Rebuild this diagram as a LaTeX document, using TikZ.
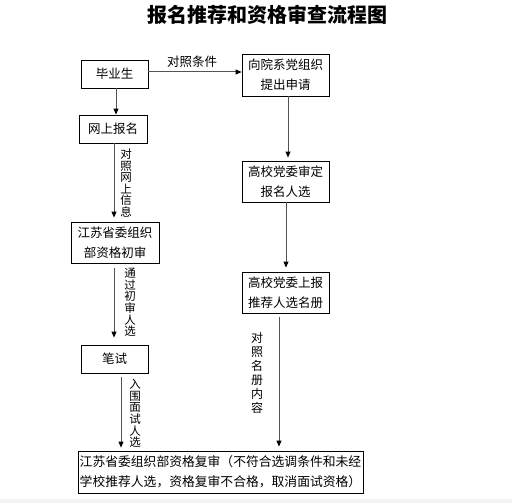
\documentclass[tikz,border=0pt]{standalone}
\usepackage{fontspec}
\newfontfamily\cjk{Noto Sans CJK SC}
\usetikzlibrary{arrows.meta}
\begin{document}
\begin{tikzpicture}[x=1pt,y=-1pt,
  box/.style={draw=black,line width=0.8pt,inner sep=0pt,align=center,font=\cjk\fontsize{12.5}{20}\selectfont},
  conn/.style={draw=gray!65!black,line width=1pt,-{Triangle[width=5pt,length=6pt,color=black]}},
  vlab/.style={align=center,inner sep=0pt,font=\cjk\fontsize{11.5}{11.6}\selectfont},
  hlab/.style={inner sep=0pt,font=\cjk\fontsize{12.5}{14}\selectfont}]
\useasboundingbox (0,0) rectangle (512,503);
\fill[white] (0,0) rectangle (512,503);
\fill[gray!10] (0,499) rectangle (512,503);
% title
\node[inner sep=0pt,font=\cjk\bfseries\fontsize{20}{22}\selectfont] (title) at (267,15) {报名推荐和资格审查流程图};
% boxes
\node[box,minimum width=67pt,minimum height=28pt] (b1) at (114.5,74) {毕业生};
\node[box,minimum width=87pt,minimum height=42pt] (b2) at (285.5,75) {向院系党组织\\提出申请};
\node[box,minimum width=68pt,minimum height=28pt] (b3) at (113,129) {网上报名};
\node[box,minimum width=88pt,minimum height=41pt] (b4) at (115,242.5) {江苏省委组织\\部资格初审};
\node[box,minimum width=67pt,minimum height=28pt] (b5) at (114.5,359) {笔试};
\node[box,minimum width=87pt,minimum height=41pt] (b6) at (285.5,181.5) {高校党委审定\\报名人选};
\node[box,minimum width=87pt,minimum height=41pt] (b7) at (285.5,292.5) {高校党委上报\\推荐人选名册};
\node[box,minimum width=285pt,minimum height=42pt,align=left,font=\cjk\fontsize{12.8}{20}\selectfont] (b8) at (220.5,472) {江苏省委组织部资格复审（不符合选调条件和未经\\学校推荐人选，资格复审不合格，取消面试资格）};
% connectors
\draw[conn] ([yshift=2pt]b1.east) -- ([yshift=3pt]b2.west);
\node[hlab] (l1) at (192,62) {对照条件};
\draw[conn] ([xshift=1.5pt]b1.south) -- ([xshift=3pt]b3.north);
\draw[conn,shorten >=4pt] ([xshift=1pt]b3.south) -- ([xshift=-1pt]b4.north);
\node[vlab] (l2) at (126,183) {对\\照\\网\\上\\信\\息};
\draw[conn,shorten <=5pt,shorten >=7pt] ([xshift=-1pt]b4.south) -- ([xshift=-0.5pt]b5.north);
\node[vlab] (l3) at (130,302.5) {通\\过\\初\\审\\人\\选};
\draw[conn,shorten <=4pt,shorten >=3pt] ([xshift=6.5pt]b5.south) -- ([xshift=-99.5pt]b8.north);
\node[vlab] (l4) at (135,413.5) {入\\围\\面\\试\\人\\选};
\draw[conn,shorten >=3pt] ([xshift=2.5pt]b2.south) -- ([xshift=2.5pt]b6.north);
\draw[conn,shorten >=4pt] ([xshift=0.5pt]b6.south) -- ([xshift=0.5pt]b7.north);
\draw[conn,shorten <=4pt,shorten >=4pt] ([xshift=-6.5pt]b7.south) -- ([xshift=58.5pt]b8.north);
\node[vlab,font=\cjk\fontsize{12}{14}\selectfont] (l5) at (257,372.5) {对\\照\\名\\册\\内\\容};
\end{tikzpicture}
\end{document}
